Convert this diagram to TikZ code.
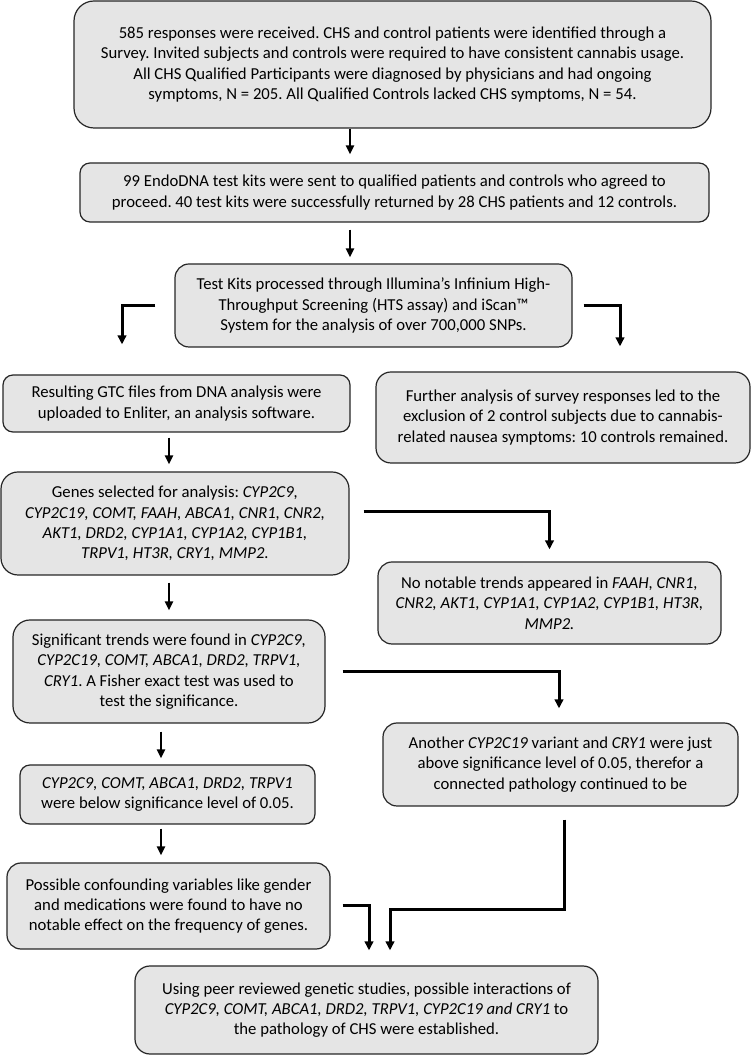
\documentclass[tikz,border=0pt]{standalone}
\usepackage{fontspec}
\setmainfont{Carlito}
\usepackage{tikz}
\usetikzlibrary{shapes,arrows.meta,positioning}
\frenchspacing

\begin{document}
\begin{tikzpicture}[x=1pt,y=1pt,
  box/.style={draw=black!85,line width=1.2pt,fill=black!10,align=center,
    inner sep=0pt,font=\fontsize{16.7}{20.3}\selectfont},
  arr/.style={line width=2.3pt,-{Triangle[width=8pt,length=9pt]}},
  elbow/.style={line width=3pt,-{Triangle[width=8.5pt,length=9pt]}}]
\useasboundingbox (0,0) rectangle (751,1055);
% Boxes, top to bottom
\node[box,minimum width=637pt,minimum height=127pt,rounded corners=20pt] (survey) at (392.5,990.5)
  {585 responses were received. CHS and control patients were identified through a\\
   Survey. Invited subjects and controls were required to have consistent cannabis usage.\\
   All CHS Qualified Participants were diagnosed by physicians and had ongoing\\
   symptoms, N = 205. All Qualified Controls lacked CHS symptoms, N = 54.};
\node[box,minimum width=629pt,minimum height=59pt,rounded corners=10pt] (kits) at (394.5,862.5)
  {99 EndoDNA test kits were sent to qualified patients and controls who agreed to\\
   proceed. 40 test kits were successfully returned by 28 CHS patients and 12 controls.};
\node[box,minimum width=397pt,minimum height=83pt,rounded corners=14pt] (illumina) at (373.5,749.5)
  {Test Kits processed through Illumina’s Infinium High-\\
   Throughput Screening (HTS assay) and iScan™\\
   System for the analysis of over 700,000 SNPs.};
\node[box,minimum width=347pt,minimum height=57pt,rounded corners=10pt] (gtc) at (176.5,651.5)
  {Resulting GTC files from DNA analysis were\\
   uploaded to Enliter, an analysis software.};
\node[box,minimum width=374pt,minimum height=91pt,rounded corners=15pt] (exclude) at (563,637.5)
  {Further analysis of survey responses led to the\\
   exclusion of 2 control subjects due to cannabis-\\
   related nausea symptoms: 10 controls remained.};
\node[box,minimum width=348pt,minimum height=103pt,rounded corners=17pt] (genes) at (175,531.5)
  {Genes selected for analysis: \textit{CYP2C9,}\\
   \textit{CYP2C19, COMT, FAAH, ABCA1, CNR1, CNR2,}\\
   \textit{AKT1, DRD2, CYP1A1, CYP1A2, CYP1B1,}\\
   \textit{TRPV1, HT3R, CRY1, MMP2.}};
\node[box,minimum width=343pt,minimum height=82pt,rounded corners=14pt] (notrend) at (549.5,452)
  {No notable trends appeared in \textit{FAAH, CNR1,}\\
   \textit{CNR2, AKT1, CYP1A1, CYP1A2, CYP1B1, HT3R,}\\
   \textit{MMP2.}};
\node[box,minimum width=312pt,minimum height=103pt,rounded corners=17pt] (signif) at (169,383.5)
  {Significant trends were found in \textit{CYP2C9,}\\
   \textit{CYP2C19, COMT, ABCA1, DRD2, TRPV1,}\\
   \textit{CRY1}. A Fisher exact test was used to\\
   test the significance.};
\node[box,minimum width=355pt,minimum height=83pt,rounded corners=14pt] (another) at (560.5,290.5)
  {Another \textit{CYP2C19} variant and \textit{CRY1} were just\\
   above significance level of 0.05, therefor a\\
   connected pathology continued to be};
\node[box,minimum width=295pt,minimum height=59pt,rounded corners=10pt] (below) at (167.5,260.5)
  {\textit{CYP2C9, COMT, ABCA1, DRD2, TRPV1}\\
   were below significance level of 0.05.};
\node[box,minimum width=323pt,minimum height=86pt,rounded corners=14pt] (confound) at (168.5,149)
  {Possible confounding variables like gender\\
   and medications were found to have no\\
   notable effect on the frequency of genes.};
\node[box,minimum width=463pt,minimum height=88pt,rounded corners=15pt] (peer) at (366.5,45)
  {Using peer reviewed genetic studies, possible interactions of\\
   \textit{CYP2C9, COMT, ABCA1, DRD2, TRPV1, CYP2C19 and CRY1} to\\
   the pathology of CHS were established.};
% Straight arrows
\draw[arr,shorten >=8pt] ([xshift=-42.5pt]survey.south) -- ([xshift=-42.5pt]survey.south |- kits.north);
\draw[arr,shorten <=7pt,shorten >=6pt] ([xshift=-44.5pt]kits.south) -- ([xshift=-44.5pt]kits.south |- illumina.north);
\draw[arr,shorten <=5pt,shorten >=7pt] ([xshift=-7.5pt]gtc.south) -- ([xshift=-7.5pt]gtc.south |- genes.north);
\draw[arr,shorten <=7pt,shorten >=9pt] ([xshift=-6pt]genes.south) -- ([xshift=-6pt]genes.south |- signif.north);
\draw[arr,shorten <=8pt,shorten >=6pt] ([xshift=-8pt]signif.south) -- ([xshift=-8pt]signif.south |- below.north);
\draw[arr,shorten <=4pt,shorten >=7pt] ([xshift=-6.5pt]below.south) -- ([xshift=-6.5pt]below.south |- confound.north);
% Elbow arrows
\draw[elbow] ([xshift=-19pt]illumina.west) -| ([xshift=-54.5pt,yshift=30pt]gtc.north);
\draw[elbow] ([xshift=11pt]illumina.east) -| ([xshift=57pt,yshift=25pt]exclude.north);
\draw[elbow] ([xshift=14pt,yshift=12pt]genes.east) -| ([yshift=12pt]notrend.north);
\draw[elbow] ([xshift=17pt]signif.east) -| ([xshift=-1.5pt,yshift=14pt]another.north);
\draw[elbow] ([xshift=3.5pt,yshift=-13pt]another.south) -- ++(0,-90) -| ([xshift=23.5pt,yshift=15pt]peer.north);
\draw[elbow] ([xshift=12pt]confound.east) -| ([xshift=2.5pt,yshift=15pt]peer.north);
\end{tikzpicture}
\end{document}
